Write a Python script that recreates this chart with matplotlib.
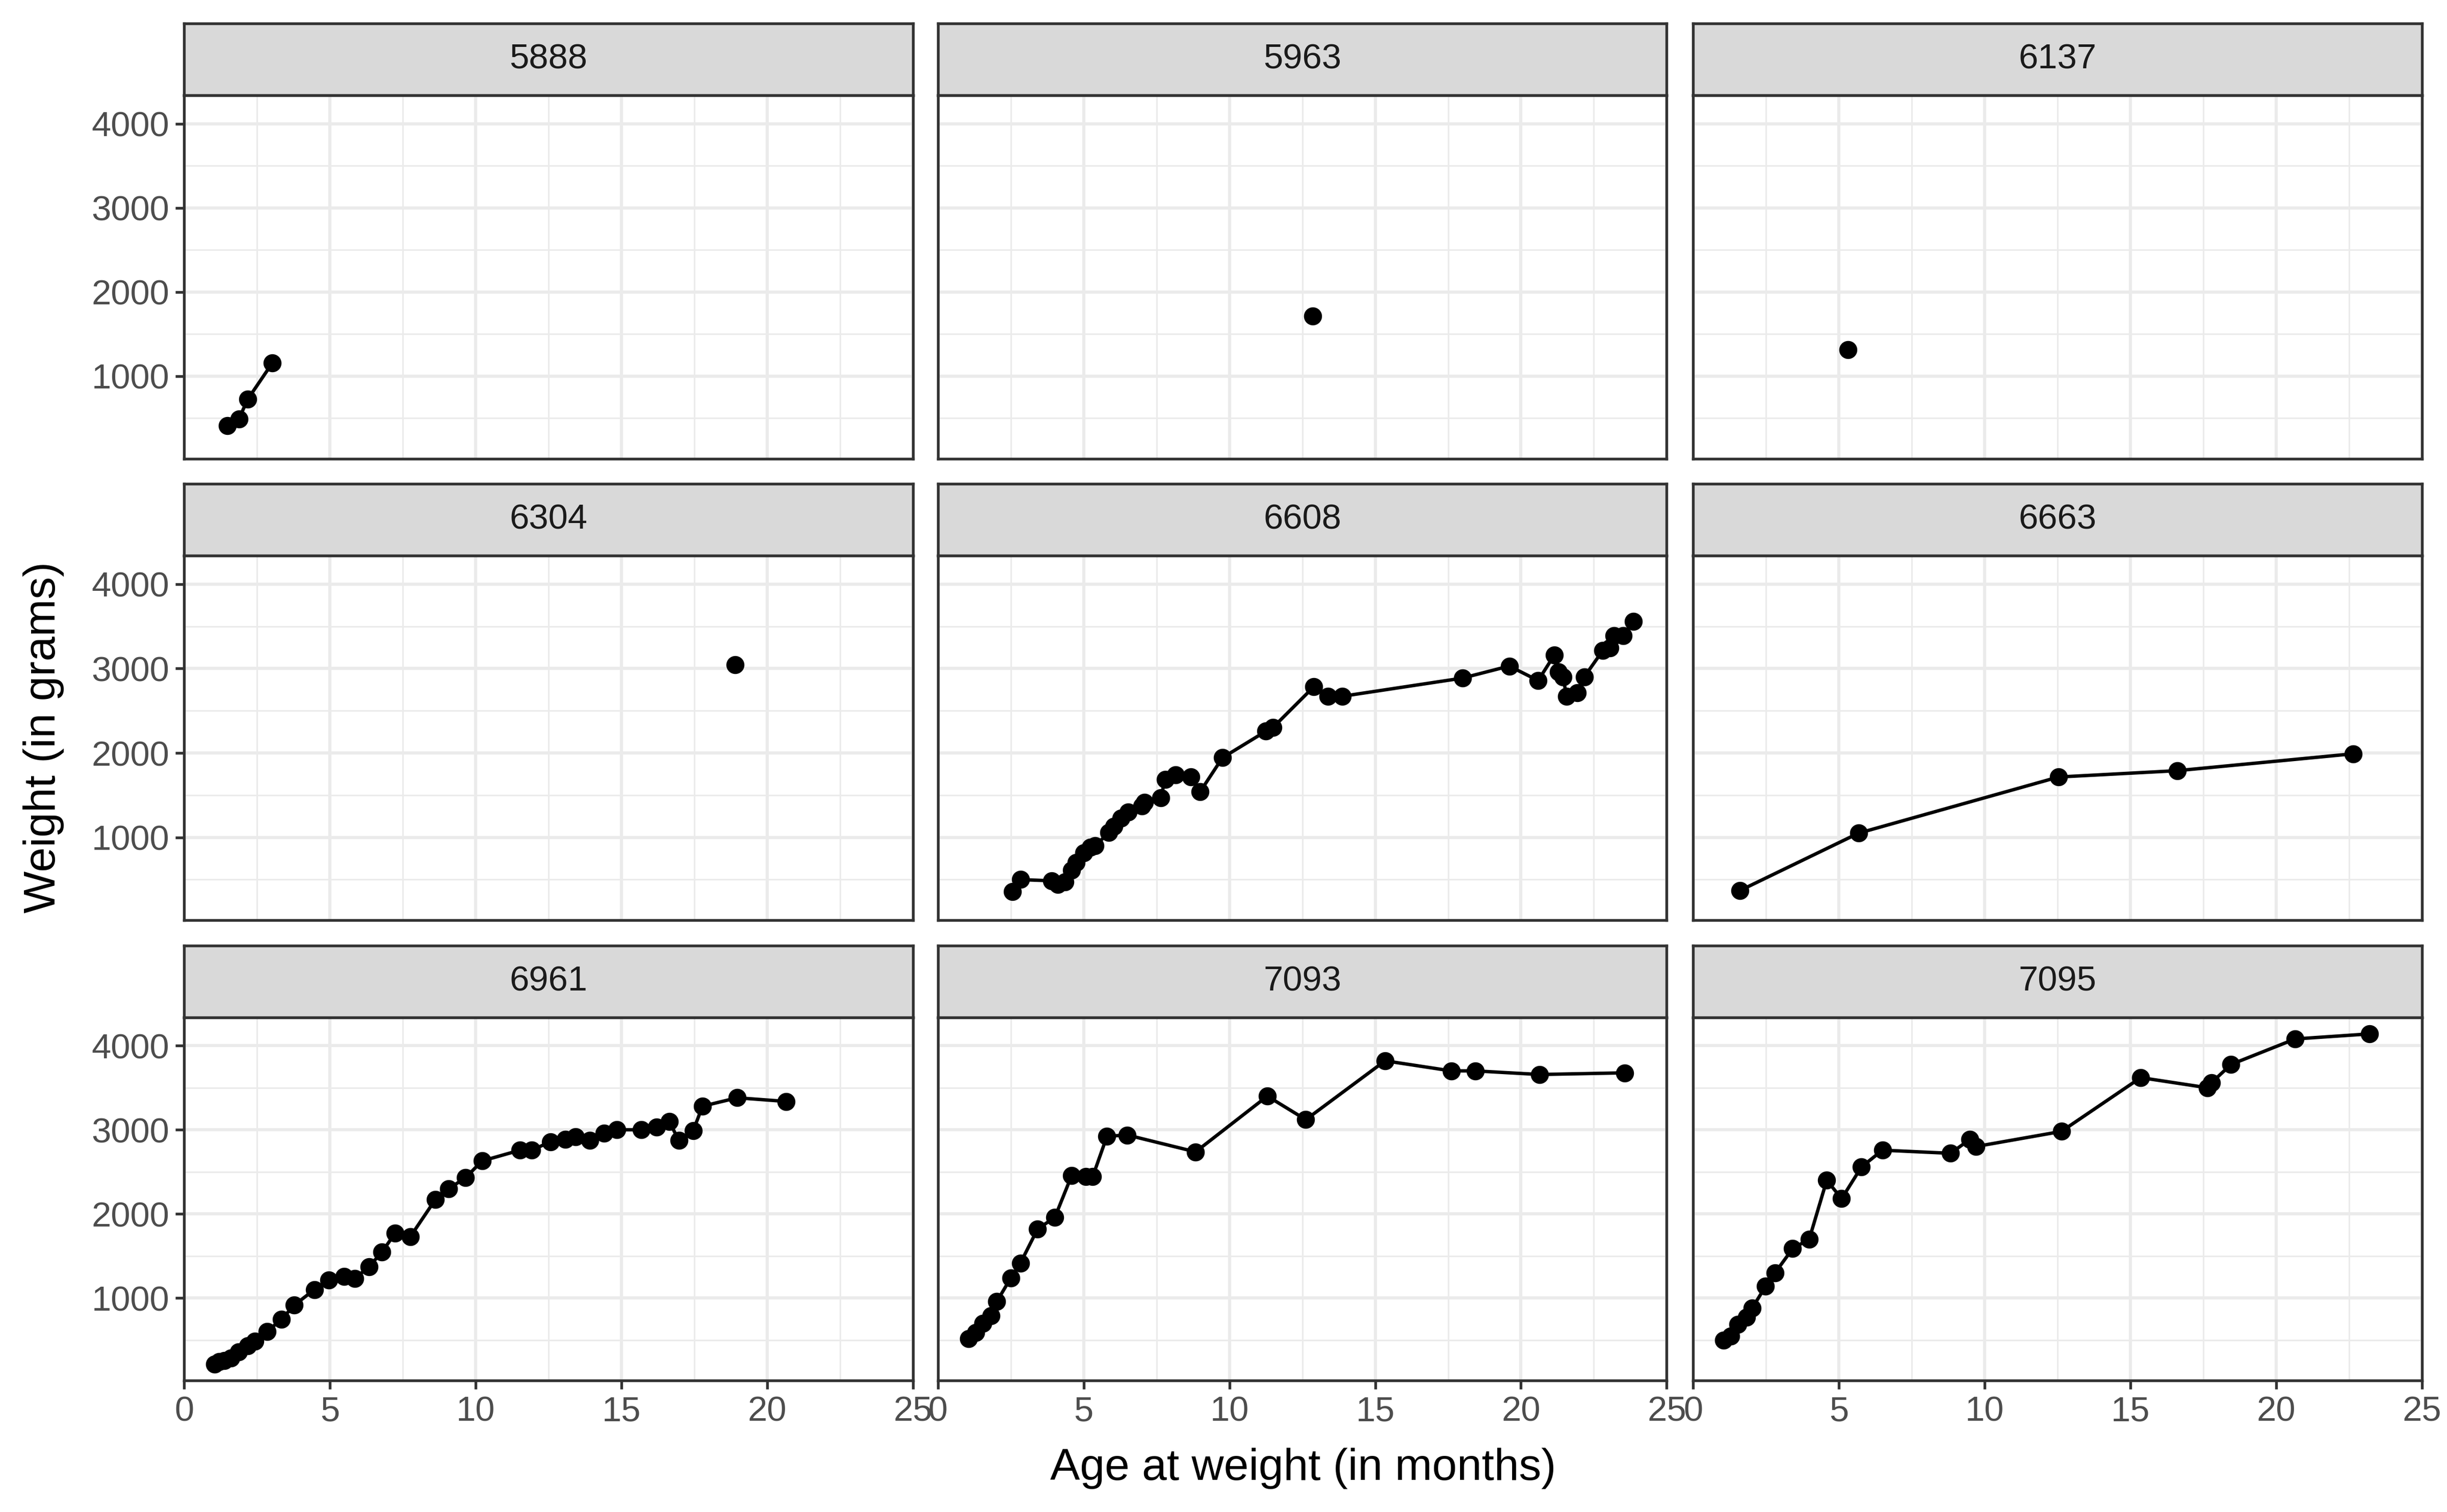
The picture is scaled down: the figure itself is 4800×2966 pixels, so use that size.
import matplotlib
matplotlib.use("Agg")
import matplotlib.pyplot as plt
from matplotlib.ticker import MultipleLocator

plt.rcParams["font.family"] = ["Liberation Sans", "DejaVu Sans"]

# -------------------------------
# Data (age in months, weight in grams)
# -------------------------------
subjects = ["5888", "5963", "6137", "6304", "6608", "6663", "6961", "7093", "7095"]

age_5888 = [1.48, 1.88, 2.18, 3.03]
wt_5888 = [409, 491, 723, 1157]

age_5963 = [12.85]
wt_5963 = [1710]

age_6137 = [5.3]
wt_6137 = [1315]

age_6304 = [18.9]
wt_6304 = [3045]

age_6608 = [2.55, 2.84, 3.9, 4.11, 4.35, 4.59, 4.75, 5.0, 5.23, 5.39, 5.87, 6.04,
            6.28, 6.52, 7.0, 7.08, 7.64, 7.8, 8.15, 8.68, 9.0, 9.76, 11.25, 11.49,
            12.9, 13.39, 13.87, 17.99, 19.6, 20.59, 21.14, 21.28, 21.44, 21.57,
            21.93, 22.17, 22.81, 23.05, 23.2, 23.5, 23.85]
wt_6608 = [357, 500, 486, 443, 471, 614, 700, 814, 886, 900, 1057, 1129,
           1229, 1300, 1371, 1414, 1471, 1686, 1743, 1714, 1543, 1943, 2257, 2300,
           2786, 2671, 2671, 2886, 3029, 2857, 3157, 2957, 2900, 2671,
           2714, 2900, 3214, 3243, 3386, 3386, 3557]

age_6663 = [1.6, 5.67, 12.53, 16.6, 22.64]
wt_6663 = [370, 1050, 1715, 1790, 1990]

age_6961 = [1.04, 1.2, 1.37, 1.61, 1.86, 2.18, 2.43, 2.84, 3.33, 3.78, 4.47, 4.96,
            5.49, 5.85, 6.34, 6.78, 7.24, 7.76, 8.62, 9.08, 9.65, 10.22, 11.52,
            11.92, 12.57, 13.07, 13.43, 13.92, 14.41, 14.85, 15.68, 16.2, 16.64,
            16.97, 17.46, 17.78, 18.97, 20.65]
wt_6961 = [214, 243, 257, 286, 357, 429, 486, 600, 743, 914, 1100, 1214,
           1257, 1229, 1371, 1543, 1771, 1729, 2171, 2300, 2429, 2629, 2757,
           2757, 2857, 2886, 2914, 2871, 2957, 3000, 3000, 3029, 3100,
           2871, 2986, 3280, 3380, 3337]

age_7093 = [1.06, 1.3, 1.54, 1.83, 2.02, 2.5, 2.83, 3.42, 4.01, 4.59, 5.07, 5.31,
            5.8, 6.5, 8.84, 11.3, 12.62, 15.34, 17.61, 18.43, 20.64, 23.56]
wt_7093 = [514, 586, 700, 791, 957, 1237, 1414, 1820, 1957, 2457, 2443, 2443,
           2923, 2937, 2737, 3400, 3120, 3820, 3700, 3700, 3657, 3677]

age_7095 = [1.04, 1.29, 1.53, 1.83, 2.02, 2.48, 2.81, 3.41, 3.98, 4.58, 5.09, 5.77,
            6.49, 8.83, 9.49, 9.69, 12.63, 15.35, 17.63, 17.77, 18.45, 20.65, 23.2]
wt_7095 = [500, 543, 686, 771, 877, 1137, 1300, 1586, 1700, 2400, 2180, 2557,
           2757, 2720, 2886, 2800, 2980, 3620, 3500, 3557, 3777, 4080, 4140]

ages = [age_5888, age_5963, age_6137, age_6304, age_6608, age_6663, age_6961, age_7093, age_7095]
weights = [wt_5888, wt_5963, wt_6137, wt_6304, wt_6608, wt_6663, wt_6961, wt_7093, wt_7095]

# -------------------------------
# Layout (reference pixel grid 1568 x 966)
# -------------------------------
W, H = 1568.0, 966.0
col_x = [(118, 585), (601, 1068), (1085, 1552)]
row_y = [(15, 61, 293), (309, 355, 588), (604, 650, 882)]


def box(x0, y0, x1, y1):
    return [x0 / W, 1 - y1 / H, (x1 - x0) / W, (y1 - y0) / H]


fig = plt.figure(figsize=(16, 16 * 2966 / 4800), dpi=300)

all_w = [w for ws in weights for w in ws]
lo, hi = min(all_w), max(all_w)
pad = 0.05 * (hi - lo)
ylim = (lo - pad, hi + pad)

dark = "#333333"
grid_col = "#EBEBEB"

for i, name in enumerate(subjects):
    r, c = divmod(i, 3)
    x0, x1 = col_x[c]
    s0, s1, p1 = row_y[r]

    # strip
    sax = fig.add_axes(box(x0, s0, x1, s1))
    sax.set_facecolor("#D9D9D9")
    sax.set_xticks([])
    sax.set_yticks([])
    for sp in sax.spines.values():
        sp.set_color(dark)
        sp.set_linewidth(1.3)
    sax.text(0.5, 0.5, name, ha="center", va="center", fontsize=16.5,
             color="#1A1A1A", transform=sax.transAxes)

    # panel
    ax = fig.add_axes(box(x0, s1, x1, p1))
    ax.set_xlim(0, 25)
    ax.set_ylim(*ylim)
    ax.xaxis.set_major_locator(MultipleLocator(5))
    ax.xaxis.set_minor_locator(MultipleLocator(2.5))
    ax.set_yticks([1000, 2000, 3000, 4000])
    ax.set_yticks([500, 1500, 2500, 3500], minor=True)
    ax.grid(which="major", color=grid_col, linewidth=1.5)
    ax.grid(which="minor", color=grid_col, linewidth=0.75)
    ax.set_axisbelow(True)
    for sp in ax.spines.values():
        sp.set_color(dark)
        sp.set_linewidth(1.3)

    ax.plot(ages[i], weights[i], color="black", linewidth=1.6, zorder=3)
    ax.plot(ages[i], weights[i], "o", color="black", markersize=7.5, zorder=4)

    ax.tick_params(which="major", length=4, width=1.3, color=dark,
                   labelsize=16.5, labelcolor="#4D4D4D", pad=3)
    ax.tick_params(which="minor", length=0)
    if c != 0:
        ax.tick_params(axis="y", which="major", left=False, labelleft=False)
    if r != 2:
        ax.tick_params(axis="x", which="major", bottom=False, labelbottom=False)

fig.text(835 / W, 1 - 938 / H, "Age at weight (in months)", ha="center",
         va="center", fontsize=21, color="black")
fig.text(28 / W, 1 - 471 / H, "Weight (in grams)", ha="center",
         va="center", rotation=90, fontsize=21, color="black")

fig.savefig("out.png", dpi=300, facecolor="white")
